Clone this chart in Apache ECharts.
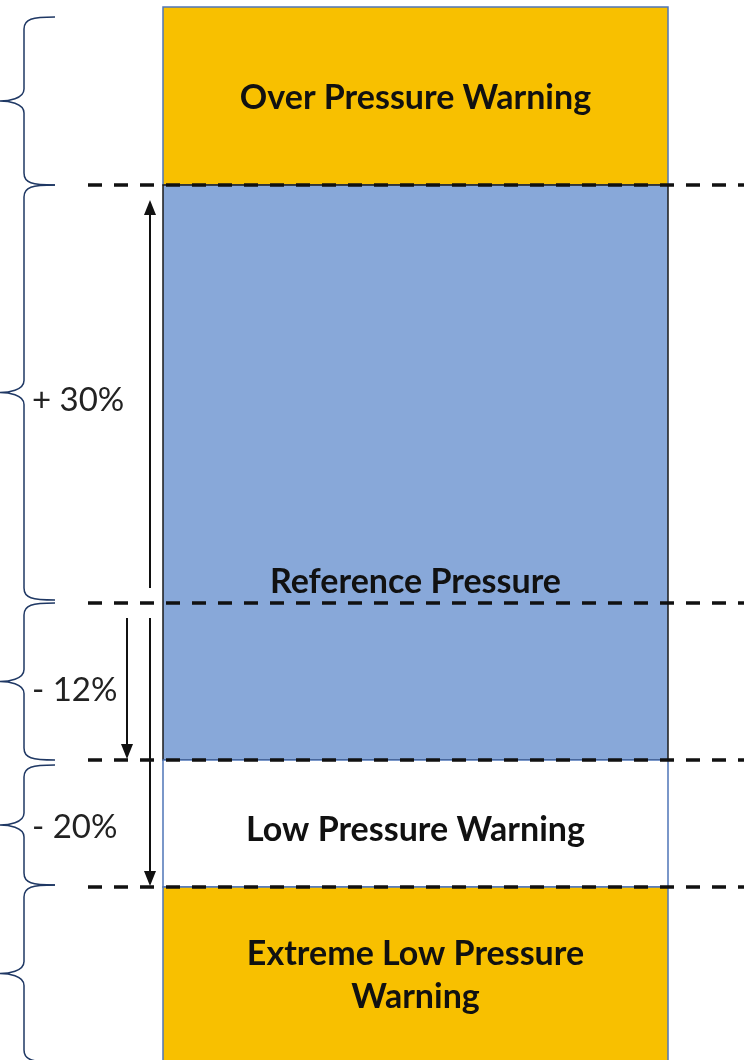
<!DOCTYPE html>
<html>
<head>
<meta charset="utf-8">
<script src="https://cdn.jsdelivr.net/npm/echarts@6/dist/echarts.min.js"></script>
<style>
html,body{margin:0;padding:0;background:#fff;}
#main{width:744px;height:1060px;}
</style>
</head>
<body>
<div id="main"></div>
<script>
var bandNames = ['Over Pressure Warning', 'Normal', 'Low Pressure Warning', 'Extreme Low Pressure Warning'];
var bandTop = [7, 185, 760, 887];
var bandBottom = [185, 760, 887, 1075];

var labelTexts = ['Over Pressure Warning', 'Reference Pressure', 'Low Pressure Warning', 'Extreme Low Pressure\nWarning'];
var labelLevel = [98, 582, 830, 976];

var dashLevels = [185, 603, 760, 887];

var pctTexts = ['+ 30%', '- 12%', '- 20%'];
var pctLevel = [400, 690, 827];

var arrowX = [150, 127, 150];
var arrowFrom = [588, 618, 618];
var arrowTo = [200, 759, 886];

var braceTop = [17, 185, 603, 765, 885];
var braceBottom = [185, 600, 760, 885, 1062];

/*column edges & colours*/
var colLeft = 163, colRight = 668;
var bandFill = ['#F8C000', '#88A8D9', '#FFFFFF', '#F8C000'];
var bandStroke = ['#4F76B8', '#1a1a1a', '#4F76B8', '#4F76B8'];

var myChart = echarts.init(document.getElementById('main'));

function bandItem(params, api) {
    var i = params.dataIndex;
    var p1 = api.coord([colLeft, bandTop[i]]);
    var p2 = api.coord([colRight, bandBottom[i]]);
    return {
        type: 'rect',
        shape: {x: p1[0], y: p1[1], width: p2[0] - p1[0], height: p2[1] - p1[1]},
        style: {fill: bandFill[i], stroke: bandStroke[i], lineWidth: 1.5}
    };
}

function labelItem(params, api) {
    var i = params.dataIndex;
    var p = api.coord([(colLeft + colRight) / 2, labelLevel[i]]);
    return {
        type: 'text', x: p[0], y: p[1],
        style: {text: labelTexts[i], fill: '#111', font: 'bold 34px Lato', align: 'center', verticalAlign: 'middle', lineHeight: 43}
    };
}

function dashItem(params, api) {
    var i = params.dataIndex;
    var a = api.coord([88, dashLevels[i]]);
    var b = api.coord([744, dashLevels[i]]);
    return {
        type: 'line',
        shape: {x1: a[0], y1: a[1], x2: b[0], y2: b[1]},
        style: {stroke: '#111', lineWidth: 3.5, lineDash: [14, 12]}
    };
}

function pctItem(params, api) {
    var i = params.dataIndex;
    var p = api.coord([32, pctLevel[i]]);
    return {
        type: 'text', x: p[0], y: p[1],
        style: {text: pctTexts[i], fill: '#222', font: '33px Lato', align: 'left', verticalAlign: 'middle'}
    };
}

function arrowItem(params, api) {
    var i = params.dataIndex;
    var a = api.coord([arrowX[i], arrowFrom[i]]);
    var b = api.coord([arrowX[i], arrowTo[i]]);
    var dir = b[1] > a[1] ? 1 : -1;
    var head = 15;
    return {
        type: 'group',
        children: [
            {type: 'line', shape: {x1: a[0], y1: a[1], x2: b[0], y2: b[1] - dir * head}, style: {stroke: '#111', lineWidth: 2}},
            {type: 'polygon', shape: {points: [[b[0], b[1]], [b[0] - 6, b[1] - dir * head], [b[0] + 6, b[1] - dir * head]]}, style: {fill: '#111'}}
        ]
    };
}

function braceItem(params, api) {
    var i = params.dataIndex;
    var t = api.coord([55, braceTop[i]]);
    var bt = api.coord([55, braceBottom[i]]);
    var spine = api.coord([24, 0])[0];
    var tip = api.coord([0, 0])[0];
    var y1 = t[1], y2 = bt[1], m = (y1 + y2) / 2, r = 12;
    var d = 'M' + t[0] + ' ' + y1 +
        ' C' + (spine + 8) + ' ' + y1 + ' ' + spine + ' ' + (y1 + 2) + ' ' + spine + ' ' + (y1 + r) +
        ' L' + spine + ' ' + (m - r) +
        ' C' + spine + ' ' + (m - 2) + ' ' + (tip + 8) + ' ' + m + ' ' + tip + ' ' + m +
        ' C' + (tip + 8) + ' ' + m + ' ' + spine + ' ' + (m + 2) + ' ' + spine + ' ' + (m + r) +
        ' L' + spine + ' ' + (y2 - r) +
        ' C' + spine + ' ' + (y2 - 2) + ' ' + (spine + 8) + ' ' + y2 + ' ' + t[0] + ' ' + y2;
    return {
        type: 'path',
        shape: {pathData: d},
        style: {fill: null, stroke: '#1F3864', lineWidth: 1.5}
    };
}

function idx(arr) { return arr.map(function (v, i) { return [i]; }); }

var option = {
    animation: false,
    grid: {left: 0, right: 0, top: 0, bottom: 0},
    xAxis: {type: 'value', min: 0, max: 744, show: false},
    yAxis: {type: 'value', min: 0, max: 1060, inverse: true, show: false},
    series: [
        {type: 'custom', name: 'bands', renderItem: bandItem, data: idx(bandNames), z: 1},
        {type: 'custom', name: 'dashes', renderItem: dashItem, data: idx(dashLevels), z: 2},
        {type: 'custom', name: 'labels', renderItem: labelItem, data: idx(labelTexts), z: 3},
        {type: 'custom', name: 'arrows', renderItem: arrowItem, data: idx(arrowX), z: 3},
        {type: 'custom', name: 'braces', renderItem: braceItem, data: idx(braceTop), z: 3},
        {type: 'custom', name: 'pct', renderItem: pctItem, data: idx(pctTexts), z: 3}
    ]
};
myChart.setOption(option, true);
</script>
</body>
</html>
